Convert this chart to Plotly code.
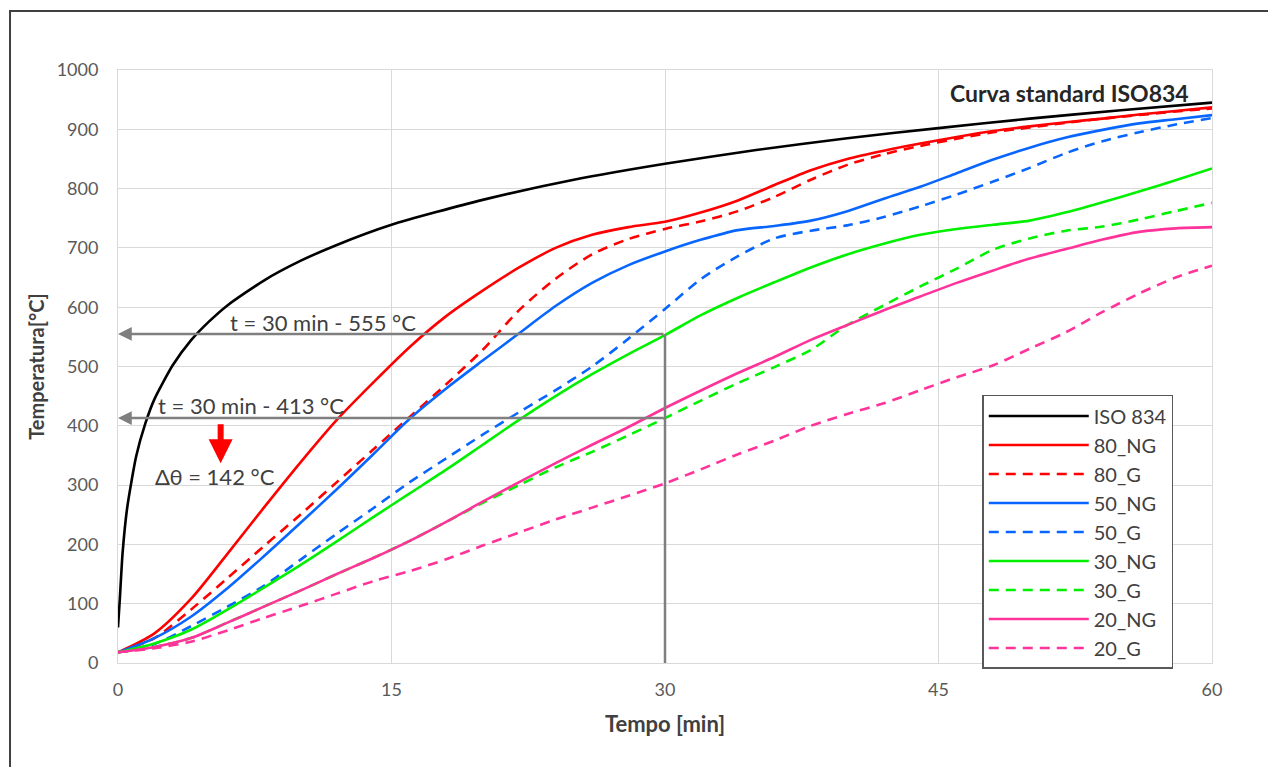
import plotly.graph_objects as go

# ---------------- data ----------------
t_iso = [0, 0.1, 0.25, 0.5, 1, 1.5, 2, 3, 4, 5, 6, 8, 10, 12, 15, 20, 25, 30, 35, 40, 45, 50, 55, 60]
iso834 = [60, 108, 185, 261, 349, 404, 445, 502, 544, 576, 603, 645, 678, 705, 739, 781, 815, 842, 865, 885, 902, 918, 932, 945]

t_min = [0, 2, 4, 6, 8, 10, 12, 14, 16, 18, 20, 22, 24, 26, 28, 30,
         32, 34, 36, 38, 40, 42, 44, 46, 48, 50, 52, 54, 56, 58, 60]

s80_ng = [18, 50, 108, 184, 262, 338, 410, 473, 533, 585, 628, 667, 700, 722, 735, 744,
          760, 780, 806, 831, 850, 864, 876, 887, 897, 905, 912, 918, 925, 931, 937]
s80_g = [18, 42, 90, 143, 197, 250, 305, 360, 415, 470, 528, 595, 648, 689, 715, 732,
         745, 762, 786, 815, 840, 858, 872, 884, 895, 903, 911, 918, 924, 930, 935]
s50_ng = [18, 42, 78, 126, 180, 236, 293, 352, 412, 463, 510, 556, 602, 641, 671, 694,
          714, 730, 737, 746, 762, 783, 803, 826, 849, 869, 886, 899, 910, 917, 924]
s50_g = [18, 32, 62, 95, 130, 174, 218, 261, 305, 345, 385, 423, 460, 500, 547, 597,
         648, 686, 716, 729, 738, 752, 770, 790, 812, 835, 860, 880, 895, 908, 919]
s30_ng = [18, 33, 56, 90, 127, 165, 205, 246, 286, 326, 368, 410, 450, 487, 521, 553,
          587, 616, 642, 667, 689, 707, 722, 732, 739, 746, 760, 777, 795, 814, 834]
s30_g = [18, 27, 42, 68, 95, 122, 150, 177, 206, 238, 270, 300, 330, 356, 384, 413,
         443, 472, 499, 528, 570, 603, 635, 665, 697, 716, 729, 736, 748, 762, 776]
s20_ng = [18, 27, 42, 68, 95, 122, 150, 177, 206, 238, 272, 305, 337, 368, 398, 430,
          460, 489, 516, 545, 570, 595, 618, 641, 662, 682, 698, 714, 727, 733, 735]
s20_g = [18, 25, 36, 55, 76, 96, 117, 138, 155, 175, 198, 220, 242, 262, 282, 303,
         327, 352, 375, 400, 420, 438, 460, 482, 502, 530, 558, 592, 623, 650, 670]

series_names = ["80_NG", "80_G", "50_NG", "50_G", "30_NG", "30_G", "20_NG", "20_G"]
series_values = [s80_ng, s80_g, s50_ng, s50_g, s30_ng, s30_g, s20_ng, s20_g]
series_colors = ["#ff0000", "#ff0000", "#0866ff", "#0866ff", "#00f000", "#00f000", "#ff3399", "#ff3399"]
series_dash = ["solid", "10px,7px", "solid", "10px,7px", "solid", "10px,7px", "solid", "10px,7px"]

x_ticks = [0, 15, 30, 45, 60]
t_ref = 30          # min
T_ng = 555          # degC at 30 min, NG
T_g = 413           # degC at 30 min, G
delta_label = "Δθ = 142 °C"

FONT = "Lato"

fig = go.Figure()
fig.add_trace(go.Scatter(x=t_iso, y=iso834, name="ISO 834", mode="lines",
                         line=dict(color="#000000", width=2.6, shape="spline", smoothing=0.6),
                         legendgroup="g0"))
for i, (n, v, c, d) in enumerate(zip(series_names, series_values, series_colors, series_dash)):
    fig.add_trace(go.Scatter(x=t_min, y=v, name=n, mode="lines",
                             line=dict(color=c, width=2.6, dash=d, shape="spline", smoothing=0.8),
                             legendgroup="g%d" % (i + 1)))

grid = "#d9d9d9"
fig.update_layout(
    width=1268, height=759,
    margin=dict(l=110, r=64, t=62, b=104),
    paper_bgcolor="white", plot_bgcolor="white",
    font=dict(family=FONT, size=18, color="#595959"),
    showlegend=True,
    legend=dict(x=0.79, y=0.452, xanchor="left", yanchor="top",
                bgcolor="white", bordercolor="#595959", borderwidth=1.5,
                font=dict(family=FONT, size=20, color="#404040"),
                tracegroupgap=0, itemwidth=100, traceorder="grouped"),
    xaxis=dict(range=[0, 60], tickvals=x_ticks, showgrid=True, gridcolor=grid, gridwidth=1,
               showline=True, linecolor=grid, linewidth=1, mirror=True, zeroline=False,
               ticks="", ticklabelstandoff=10,
               title=dict(text="<b>Tempo [min]</b>", font=dict(family=FONT, size=22, color="#404040"), standoff=18)),
    yaxis=dict(range=[0, 1000], dtick=100, showgrid=True, gridcolor=grid, gridwidth=1,
               showline=True, linecolor=grid, linewidth=1, mirror=True, zeroline=False,
               ticks="", ticklabelstandoff=15,
               title=dict(text="<b>Temperatura[°C]</b>", font=dict(family=FONT, size=20, color="#404040"), standoff=6)),
)

# reference lines at t = 30 min
fig.add_shape(type="line", xref="x", yref="y", x0=t_ref, x1=t_ref, y0=0, y1=T_ng,
              line=dict(color="#7f7f7f", width=2.5))
for T in (T_ng, T_g):
    fig.add_annotation(x=0, y=T, ax=t_ref, ay=T, xref="x", yref="y", axref="x", ayref="y",
                       text="", showarrow=True, arrowhead=2, arrowsize=1.1, arrowwidth=2.5,
                       arrowcolor="#7f7f7f", standoff=0)

fig.add_annotation(x=11.25, y=575, xref="x", yref="y", showarrow=False,
                   text="t = %d min - %d °C" % (t_ref, T_ng),
                   font=dict(family=FONT, size=22, color="#404040"))
fig.add_annotation(x=7.28, y=435, xref="x", yref="y", showarrow=False,
                   text="t = %d min - %d °C" % (t_ref, T_g),
                   font=dict(family=FONT, size=22, color="#404040"))
fig.add_annotation(x=5.3, y=314, xref="x", yref="y", showarrow=False,
                   text=delta_label, font=dict(family=FONT, size=22, color="#404040"))
# red arrow for the temperature drop
fig.add_annotation(x=5.63, y=337, ax=5.63, ay=405, xref="x", yref="y", axref="x", ayref="y",
                   text="", showarrow=True, arrowhead=2, arrowsize=0.8, arrowwidth=6,
                   arrowcolor="#ff0000", standoff=0)
fig.add_annotation(x=52.2, y=961, xref="x", yref="y", showarrow=False,
                   text="<b>Curva standard ISO834</b>",
                   font=dict(family=FONT, size=23, color="#262626"))

# outer chart frame (only top and left edges visible)
fig.add_shape(type="rect", xref="paper", yref="paper", x0=-0.0987, x1=1.3, y0=-0.4, y1=1.0995,
              line=dict(color="#404040", width=2), layer="below")

fig.write_html("out.html")
